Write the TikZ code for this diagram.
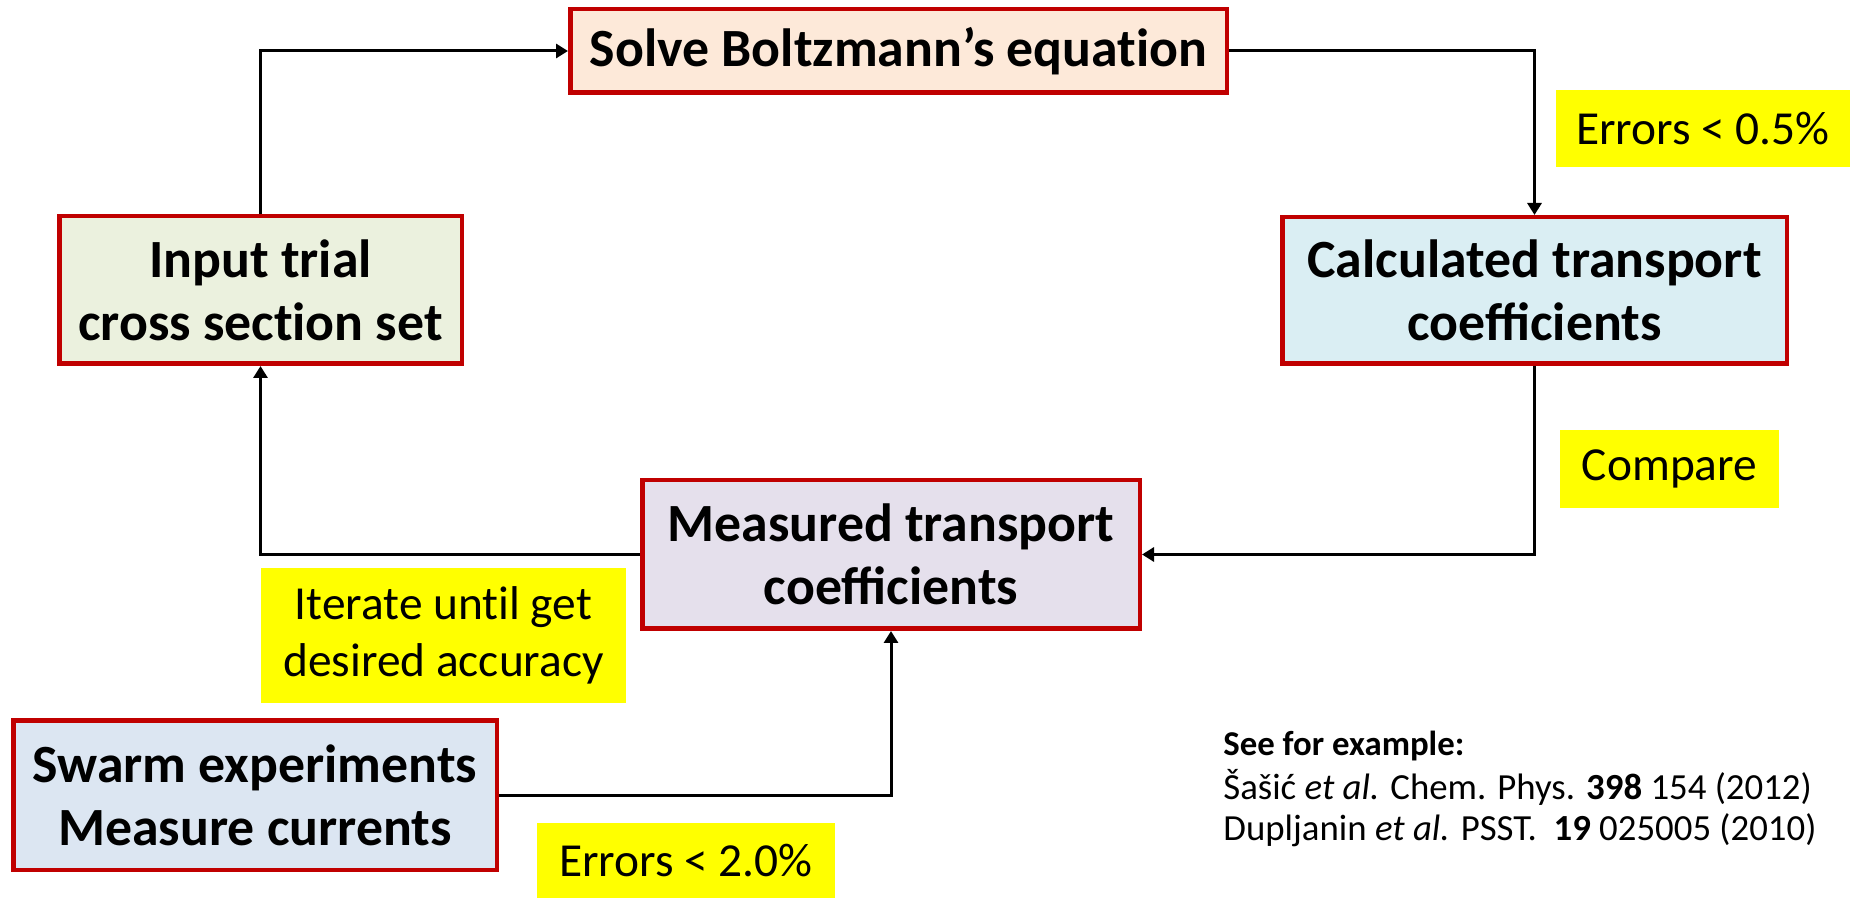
\documentclass[tikz,border=0pt]{standalone}
\usepackage{fontspec}
\setmainfont{Carlito}
\usetikzlibrary{arrows.meta}
\definecolor{boxred}{HTML}{C00000}
\definecolor{fsolve}{HTML}{FDE9D9}
\definecolor{finput}{HTML}{EBF1DE}
\definecolor{fcalc}{HTML}{DAEEF3}
\definecolor{fmeas}{HTML}{E5E0EC}
\definecolor{fswarm}{HTML}{DCE6F2}
\definecolor{hl}{HTML}{FFFF00}
\tikzset{
  mainbox/.style={draw=boxred, line width=2.25pt, rectangle, align=center, inner sep=0pt,
    font=\fontsize{26.9}{31.5}\selectfont\bfseries},
  hlbox/.style={fill=hl, rectangle, align=center, inner sep=0pt,
    font=\fontsize{23.7}{28.5}\selectfont},
  conn/.style={line width=1.5pt, -{Triangle[length=6pt,width=7pt]}},
  reftext/.style={anchor=base west, inner sep=0pt, font=\fontsize{18.4}{21}\selectfont},
}
\begin{document}
\begin{tikzpicture}[x=0.5pt,y=-0.5pt]
\useasboundingbox (0,0) rectangle (1854,898);
\node[mainbox, fill=fsolve, minimum width=328.25pt, minimum height=41.75pt] (solve) at (898.5,51) {Solve Boltzmann’s equat\kern0pt ion};
\node[mainbox, fill=finput, minimum width=201.25pt, minimum height=73.75pt] (input) at (260.5,290) {Input trial\\cross sect\kern0pt ion set};
\node[mainbox, fill=fcalc, minimum width=252.25pt, minimum height=73.25pt] (calc) at (1534.5,290.5) {Calculated transport\\coefficients};
\node[mainbox, fill=fmeas, minimum width=248.75pt, minimum height=74.25pt] (meas) at (891,554.5) {Measured transport\\coefficients};
\node[mainbox, fill=fswarm, minimum width=241.75pt, minimum height=74.75pt] (swarm) at (255,795) {Swarm experiments\\Measure currents};

\node[hlbox, minimum width=147pt, minimum height=38.5pt] (err1) at (1703,128.5) {Errors < 0.5\%};
\node[hlbox, minimum width=109.5pt, minimum height=39pt] (cmp) at (1669.5,469) {Compare};
\node[hlbox, minimum width=182.5pt, minimum height=67.5pt] (iter) at (443.5,635.5) {Iterate unt\kern0pt il get\\desired accuracy};
\node[hlbox, minimum width=149pt, minimum height=38pt] (err2) at (686,861) {Errors < 2.0\%};

\draw[conn] (input.north) |- (solve.west);
\draw[conn] (solve.east) -| (calc.north);
\draw[conn] (calc.south) |- (meas.east);
\draw[conn] (meas.west) -| (input.south);
\draw[conn] (swarm.east) -| (meas.south);

\node[reftext, font=\fontsize{17.4}{21}\selectfont] (ref0) at (1223,755) {\textbf{See for example:}};
\node[reftext] (ref1) at (1223,799) {Šašić \textit{et al.} Chem. Phys. \textbf{398} 154 (2012)};
\node[reftext] (ref2) at (1223,840) {Dupljanin \textit{et al.} PSST.\ \ \textbf{19} 025005 (2010)};
\end{tikzpicture}
\end{document}
